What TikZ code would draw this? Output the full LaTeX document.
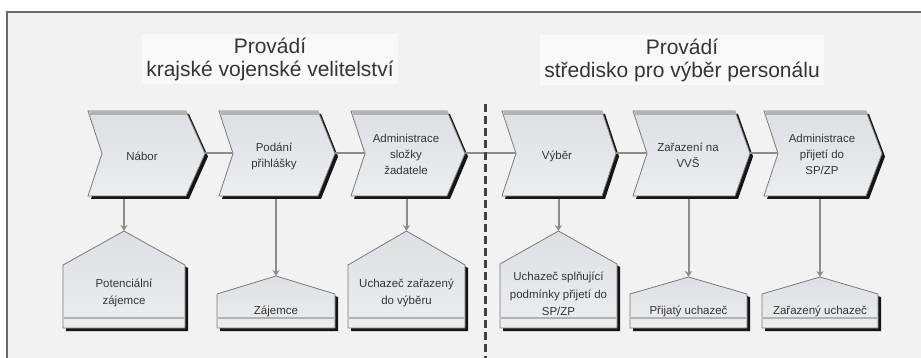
\documentclass[tikz,border=0pt]{standalone}
\usepackage{fontspec}
\setmainfont{Liberation Sans}
\usetikzlibrary{arrows.meta}
\definecolor{bgc}{HTML}{F2F2F2}
\definecolor{chevfill}{HTML}{DEDFE2}
\definecolor{chevlow}{HTML}{ECEDEF}
\definecolor{bandc}{HTML}{B2B2B2}
\definecolor{linec}{HTML}{8C8C8C}
\definecolor{edgec}{HTML}{7A7A7A}
\definecolor{txtc}{HTML}{353535}
\definecolor{framec}{HTML}{6A6A6A}
\definecolor{shadc}{HTML}{151515}
\tikzset{
  titletext/.style={align=center, text=txtc, font=\fontsize{21}{23}\selectfont, inner sep=4pt, fill=white!55!bgc},
  chevtext/.style={align=center, text=txtc, font=\fontsize{11.5}{16}\selectfont, inner sep=1pt},
  housetext/.style={align=center, text=txtc, font=\fontsize{11.5}{17.5}\selectfont, inner sep=1pt},
  shadowfill/.style={fill=shadc},
  bodyfill/.style={top color=chevfill, bottom color=chevlow, draw=edgec, line width=0.8pt},
  topband/.style={draw=bandc, line width=4pt},
  lowband/.style={draw=bandc, line width=1.5pt},
  hconn/.style={draw=linec, line width=2pt},
  vconn/.style={draw=linec, line width=2pt, -{Stealth[length=6pt,width=7pt]}},
  divider/.style={draw=shadc!80, line width=3pt, dash pattern=on 8pt off 4pt},
}
% #1 name, #2 x left, #3 x top-right, #4 tip x, #5 text x, #6 text y, #7 text
\newcommand{\chevron}[7]{%
  \fill[shadowfill] (#2+3,114) -- (#3+3,114) -- (#4+3,156.5) -- (#3+3,199) -- (#2+3,199) -- (#2+17,156.5) -- cycle;
  \path[bodyfill] (#2,111) -- (#3,111) -- (#4,153.5) -- (#3,196) -- (#2,196) -- (#2+14,153.5) -- cycle;
  \draw[topband] (#2+2,113) -- (#3+1,113);
  \node[chevtext] (#1) at (#5,#6) {#7};
  \coordinate (#1tip) at (#4,153.5);
  \coordinate (#1notch) at (#2+14,153.5);
}
% #1 name, #2 x left, #3 x right, #4 peak y, #5 shoulder y, #6 text y, #7 text
\newcommand{\house}[7]{%
  \fill[shadowfill] (#2+3,#5+3) -- ({(#2+#3)/2+3},#4+3) -- (#3+3,#5+3) -- (#3+3,331) -- (#2+3,331) -- cycle;
  \path[bodyfill] (#2,#5) -- ({(#2+#3)/2},#4) -- (#3,#5) -- (#3,328) -- (#2,328) -- cycle;
  \draw[lowband] (#2+1,318) -- (#3-1,318);
  \node[housetext] (#1) at ({(#2+#3)/2},#6) {#7};
  \coordinate (#1peak) at ({(#2+#3)/2},#4);
}
\begin{document}
\begin{tikzpicture}[x=1pt,y=-1pt]
\useasboundingbox (0,0) rectangle (921,358);
\fill[white] (0,0) rectangle (921,358);
\fill[bgc] (7,12) rectangle (921,358);
\draw[framec, line width=1.5pt] (7,358) -- (7,12) -- (921,12);

\node[titletext] (t1) at (270,59) {Provádí\\krajské vojenské velitelství};
\node[titletext] (t2) at (682,60) {Provádí\\středisko pro výběr personálu};

% chevrons
\chevron{c1}{88}{186}{205}{142}{156}{Nábor}
\chevron{c2}{219}{318}{335}{274}{156}{Podání\\přihlášky}
\chevron{c3}{351}{447}{465}{406}{154}{Administrace\\složky\\žadatele}
\chevron{c4}{502}{602}{616}{557}{156}{Výběr}
\chevron{c5}{633}{735}{750}{688}{155}{Zařazení na\\VVŠ}
\chevron{c6}{764}{866}{882}{822}{154}{Administrace\\přijetí do\\SP/ZP}

% houses
\house{h1}{63}{185}{231}{265}{293}{Potenciální\\zájemce}
\house{h2}{217}{335}{276}{294}{311}{Zájemce}
\house{h3}{348}{465}{231}{265}{293}{Uchazeč zařazený\\do výběru}
\house{h4}{500}{617}{231}{264}{294}{Uchazeč splňující\\podmínky přijetí do\\SP/ZP}
\house{h5}{630}{747}{277}{294}{311}{Přijatý uchazeč}
\house{h6}{762}{878}{277}{294}{311}{Zařazený uchazeč}

% bottom anchors of chevrons above houses
\coordinate (c1bot) at (124,199);
\coordinate (c2bot) at (276,199);
\coordinate (c3bot) at (406.5,199);
\coordinate (c4bot) at (558.5,199);
\coordinate (c5bot) at (688.5,199);
\coordinate (c6bot) at (820,199);

% horizontal connectors
\draw[hconn] (c1tip) -- (c2notch);
\draw[hconn] (c2tip) -- (c3notch);
\draw[hconn] (c3tip) -- (c4notch);
\draw[hconn] (c4tip) -- (c5notch);
\draw[hconn] (c5tip) -- (c6notch);

% vertical connectors
\draw[vconn] (c1bot) -- (h1peak);
\draw[vconn] (c2bot) -- (h2peak);
\draw[vconn] (c3bot) -- (h3peak);
\draw[vconn] (c4bot) -- (h4peak);
\draw[vconn] (c5bot) -- (h5peak);
\draw[vconn] (c6bot) -- (h6peak);

% divider
\coordinate (dtop) at (485,104);
\coordinate (dbot) at (485,358);
\draw[divider] (dtop) -- (dbot);
\end{tikzpicture}
\end{document}
